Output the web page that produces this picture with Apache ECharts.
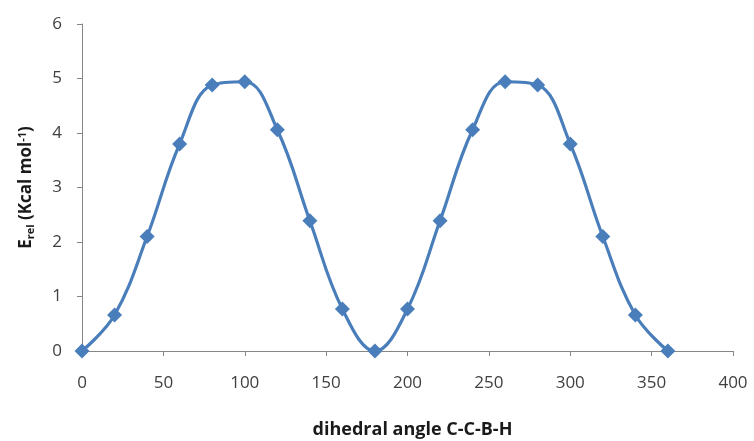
<!DOCTYPE html>
<html><head><meta charset="utf-8">
<script src="https://cdn.jsdelivr.net/npm/echarts@6/dist/echarts.min.js"></script>
<style>html,body{margin:0;padding:0;background:#fff}#c{width:754px;height:441px}</style>
</head><body><div id="c"></div>
<script>
const angles = [0,20,40,60,80,100,120,140,160,180,200,220,240,260,280,300,320,340,360];
const energies = [0,0.66,2.10,3.80,4.88,4.94,4.06,2.39,0.77,0,0.77,2.39,4.06,4.94,4.88,3.80,2.10,0.66,0];
const xTitle = 'dihedral angle C-C-B-H';

const chart = echarts.init(document.getElementById('c'));
const font = '"Open Sans", "Noto Sans", sans-serif';
chart.setOption({
  animation: false,
  grid: {left: 82, right: 21, top: 24, bottom: 90, containLabel: false, outerBoundsMode: 'none'},
  xAxis: {
    type: 'value', min: 0, max: 400, interval: 50,
    name: xTitle, nameLocation: 'middle', nameGap: 70,
    nameTextStyle: {fontFamily: font, fontSize: 18, fontWeight: 'bold', color: '#1a1a1a', padding: [0,0,0,10]},
    axisLine: {lineStyle: {color: '#868686', width: 1}},
    axisTick: {show: true, length: 5, lineStyle: {color: '#868686'}},
    axisLabel: {fontFamily: font, fontSize: 17, color: '#404040', margin: 24},
    splitLine: {show: false}
  },
  yAxis: {
    type: 'value', min: 0, max: 6, interval: 1,
    name: '{b|E}{sub|rel}{b| (Kcal mol}{sup|-1}{b|)}', nameLocation: 'middle', nameGap: 46, nameRotate: 90,
    nameTextStyle: {
      rich: {
        b: {fontFamily: font, fontSize: 17, fontWeight: 'bold', color: '#1a1a1a'},
        sub: {fontFamily: font, fontSize: 11, fontWeight: 'bold', color: '#1a1a1a', verticalAlign: 'bottom', padding: [8,0,0,0]},
        sup: {fontFamily: font, fontSize: 11, fontWeight: 'bold', color: '#1a1a1a', verticalAlign: 'top', padding: [0,0,8,0]}
      }
    },
    axisLine: {show: true, lineStyle: {color: '#868686', width: 1}},
    axisTick: {show: true, length: 5, lineStyle: {color: '#868686'}},
    axisLabel: {fontFamily: font, fontSize: 17, color: '#404040', margin: 20},
    splitLine: {show: false}
  },
  series: [{
    type: 'line',
    data: angles.map((a, i) => [a, energies[i]]),
    smooth: 0.4,
    symbol: 'diamond', symbolSize: 15,
    lineStyle: {color: '#4a7ebb', width: 3.2},
    itemStyle: {color: '#4a7ebb'},
    clip: false
  }]
});
</script></body></html>
